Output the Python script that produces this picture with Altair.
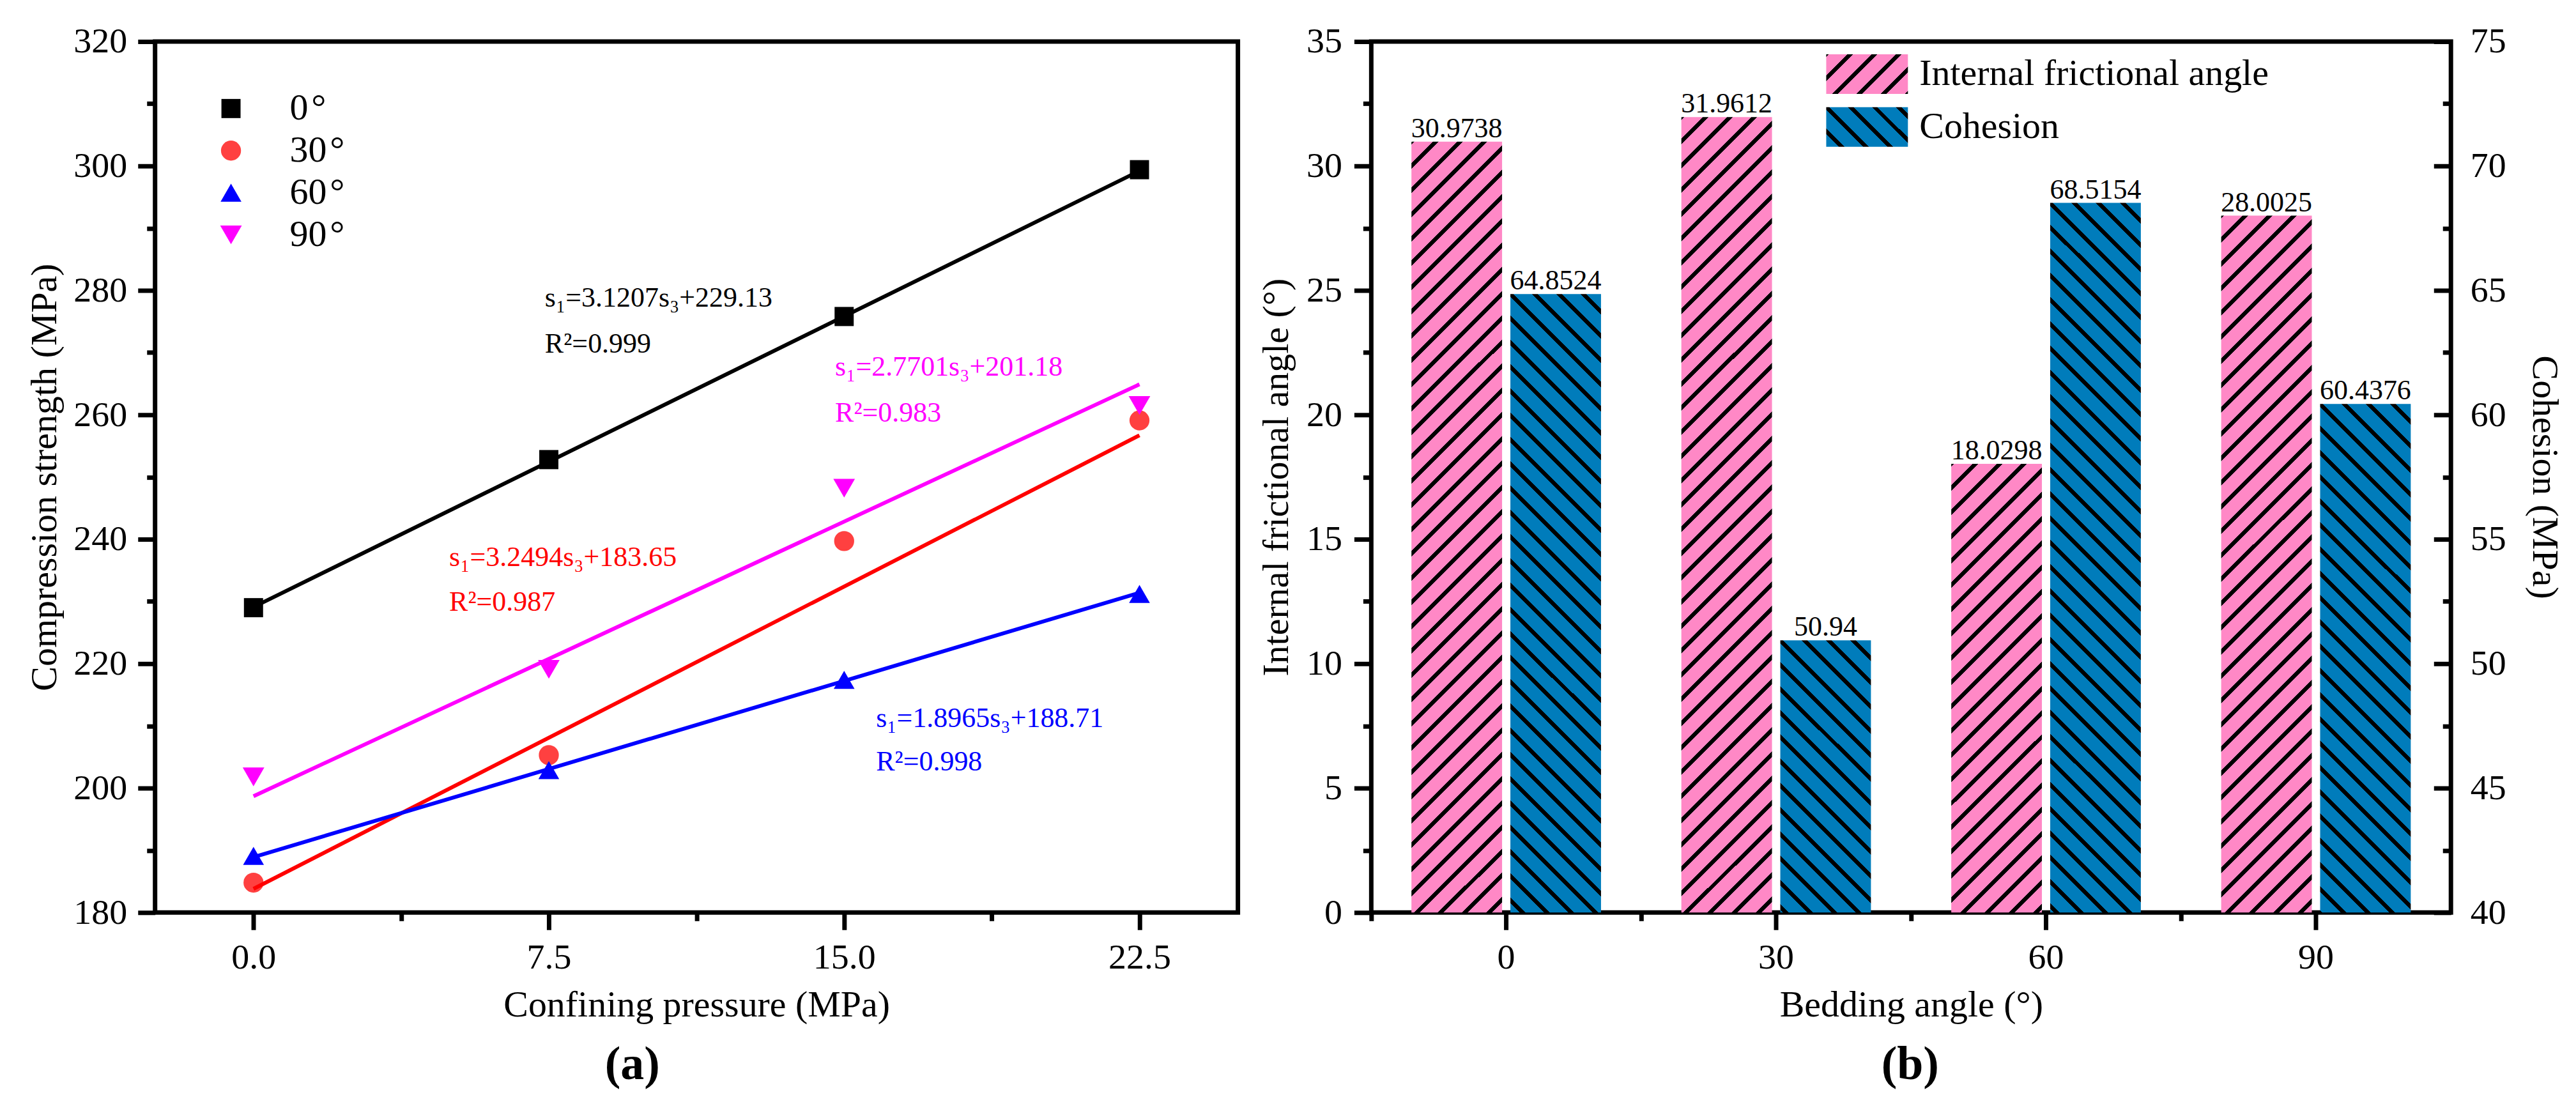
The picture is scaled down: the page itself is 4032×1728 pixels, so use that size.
import altair as alt
import pandas as pd

FONT = "Liberation Serif"

# ---------------- panel (a) data ----------------
pressure = [0.0, 7.5, 15.0, 22.5]
angles_a = ["0\u200a°", "30\u200a°", "60\u200a°", "90\u200a°"]
strength_0 = [229.0, 252.8, 275.8, 299.4]
strength_30 = [184.8, 205.3, 239.7, 259.1]
strength_60 = [189.1, 202.9, 217.4, 231.2]
strength_90 = [201.8, 219.1, 248.2, 261.5]
fit_x = [0.0, 22.5]
fit_0 = [229.1, 299.2]
fit_30 = [183.8, 256.7]
fit_60 = [188.9, 231.4]
fit_90 = [198.7, 264.9]
eq_labels = ["s₁=3.1207s₃+229.13", "s₁=3.2494s₃+183.65",
             "s₁=1.8965s₃+188.71", "s₁=2.7701s₃+201.18"]
r2_labels = ["R²=0.999", "R²=0.987", "R²=0.998", "R²=0.983"]
eq_x = [7.40, 4.97, 15.81, 14.77]
eq_y = [277.4, 235.7, 209.8, 266.3]
r2_y = [270.0, 228.5, 202.8, 258.9]

# ---------------- panel (b) data ----------------
bedding = ["0", "30", "60", "90"]
series_b = ["Internal frictional angle", "Cohesion"]
friction = [30.9738, 31.9612, 18.0298, 28.0025]
cohesion = [64.8524, 50.94, 68.5154, 60.4376]

# ---------------- styles ----------------
marker_colors = ["#000000", "#FF4040", "#0000FF", "#FF00FF"]
line_colors = ["#000000", "#FF0000", "#0000FF", "#FF00FF"]
marker_shapes = ["square", "circle", "triangle-up", "triangle-down"]
marker_sizes = [900, 1150, 1700, 1700]
PINK = "#FF88C6"
TEAL = "#007CBB"

WA, HA = 1697, 1365
WB, HB = 1692, 1365
BAR_W = 142
MAJOR, MINOR = 27, 13

# ---------------- tables ----------------
rows = []
for s, vals in zip(angles_a, [strength_0, strength_30, strength_60, strength_90]):
    for p, v in zip(pressure, vals):
        rows.append({"series": s, "pressure": p, "strength": v})
df_pts = pd.DataFrame(rows)

rows = []
for s, c, vals in zip(angles_a, line_colors, [fit_0, fit_30, fit_60, fit_90]):
    for p, v in zip(fit_x, vals):
        rows.append({"series": s, "pressure": p, "strength": v, "lc": c})
df_fit = pd.DataFrame(rows)

rows = []
for i in range(4):
    rows.append({"pressure": eq_x[i], "strength": eq_y[i], "label": eq_labels[i], "tc": line_colors[i]})
    rows.append({"pressure": eq_x[i], "strength": r2_y[i], "label": r2_labels[i], "tc": line_colors[i]})
df_eq = pd.DataFrame(rows)

df_pink = pd.DataFrame({"angle": bedding, "series": series_b[0], "value": friction})
df_blue = pd.DataFrame({"angle": bedding, "series": series_b[1], "value": cohesion})


def hatch(w, h, base, slant, period=38.0, thick=9.0, gid=None):
    L = w + h
    k = L / (w * w + h * h)
    if slant == "/":
        x1, y1, x2, y2 = 0, 0, k * w, k * h
        c0 = 0.0
    else:
        x1, y1, x2, y2 = 0, 1, k * w, 1 - k * h
        c0 = h % period
    stops = [{"offset": 0, "color": base}]
    c = c0 - period
    while c - thick / 2 <= L:
        a = (c - thick / 2) / L
        b = (c + thick / 2) / L
        if b > 0:
            a = max(a, 0.0)
            b = min(b, 1.0)
            stops += [{"offset": round(a, 5), "color": base},
                      {"offset": round(a, 5), "color": "#000000"},
                      {"offset": round(b, 5), "color": "#000000"},
                      {"offset": round(b, 5), "color": base}]
        c += period
    stops.append({"offset": 1, "color": base})
    g = {"gradient": "linear", "x1": x1, "y1": y1, "x2": x2, "y2": y2, "stops": stops}
    if gid:
        g["id"] = gid
    return g


# ---------------- panel (a) chart ----------------
xs_a = alt.Scale(domain=[-2.5, 25], nice=False, zero=False)
ys_a = alt.Scale(domain=[180, 320], nice=False, zero=False)

x_axis_a = alt.Axis(orient="bottom", title="Confining pressure (MPa)", values=[0, 7.5, 15, 22.5],
                    format=".1f", tickSize=MAJOR, labelPadding=16, titlePadding=18, domain=False)
y_axis_a = alt.Axis(orient="left", title="Compression strength (MPa)", values=list(range(180, 321, 20)),
                    tickSize=MAJOR, labelPadding=17, titlePadding=15, domain=False)
x_minor_a = alt.Axis(orient="bottom", title=None, labels=False, values=[3.75, 11.25, 18.75],
                     tickSize=MINOR, domain=False)
y_minor_a = alt.Axis(orient="left", title=None, labels=False, values=list(range(190, 320, 20)),
                     tickSize=MINOR, domain=False)

legend_a = alt.Legend(title=None, orient="none", legendX=90, legendY=76, labelOffset=63,
                      rowPadding=8, padding=0, labelFontSize=58, labelFont=FONT, labelLimit=0,
                      symbolStrokeWidth=0, symbolOpacity=1)

points = alt.Chart(df_pts).mark_point(filled=True, opacity=1).encode(
    x=alt.X("pressure:Q", scale=xs_a, axis=x_axis_a),
    y=alt.Y("strength:Q", scale=ys_a, axis=y_axis_a),
    color=alt.Color("series:N", scale=alt.Scale(domain=angles_a, range=marker_colors), legend=legend_a),
    shape=alt.Shape("series:N", scale=alt.Scale(domain=angles_a, range=marker_shapes), legend=legend_a),
    size=alt.Size("series:N", scale=alt.Scale(domain=angles_a, range=marker_sizes), legend=legend_a),
)

lines = alt.Chart(df_fit).mark_line(strokeWidth=6).encode(
    x=alt.X("pressure:Q", scale=xs_a, axis=x_minor_a),
    y=alt.Y("strength:Q", scale=ys_a, axis=y_minor_a),
    detail="series:N",
    color=alt.Color("lc:N", scale=None),
)

eqs = alt.Chart(df_eq).mark_text(align="left", baseline="alphabetic", fontSize=44, font=FONT).encode(
    x=alt.X("pressure:Q", scale=xs_a, axis=None),
    y=alt.Y("strength:Q", scale=ys_a, axis=None),
    text="label:N",
    color=alt.Color("tc:N", scale=None),
)

left = alt.layer(points, lines, eqs).resolve_axis(x="independent", y="independent").properties(
    width=WA, height=HA,
    title=alt.TitleParams("(a)", orient="bottom", anchor="middle", frame="bounds",
                          fontSize=74, fontWeight="bold", font=FONT, offset=29, color="black"),
)

# ---------------- panel (b) chart ----------------
xs_b = alt.Scale(domain=bedding, paddingInner=0, paddingOuter=0)
xoff = alt.XOffset("series:N", scale=alt.Scale(domain=series_b, paddingInner=0.0839, paddingOuter=0.406))
yl_scale = alt.Scale(domain=[0, 35], nice=False, zero=True)
yr_scale = alt.Scale(domain=[40, 75], nice=False, zero=False)

x_major = alt.X("angle:N", sort=bedding, scale=xs_b, axis=alt.Axis(
    orient="bottom", title="Bedding angle (°)", labelAngle=0, tickSize=MAJOR, labelPadding=16,
    titlePadding=18, domain=False))
x_minor = alt.X("angle:N", sort=bedding, scale=xs_b, axis=alt.Axis(
    orient="bottom", title=None, labels=False, bandPosition=0, tickSize=MINOR, domain=False))
x_none = alt.X("angle:N", sort=bedding, scale=xs_b, axis=None)

yl_axis = alt.Axis(orient="left", title="Internal frictional angle (°)", values=list(range(0, 36, 5)),
                   tickSize=MAJOR, labelPadding=19, titlePadding=17, domain=False)
yl_minor = alt.Axis(orient="left", title=None, labels=False, values=[2.5 + 5 * i for i in range(7)],
                    tickSize=MINOR, domain=False)
yr_axis_labels = alt.Axis(orient="right", title="Cohesion (MPa)", values=list(range(40, 76, 5)),
                          ticks=False, tickSize=0, labelPadding=30, titlePadding=30, domain=False)
yr_major = alt.Axis(orient="left", offset=-WB, values=list(range(40, 76, 5)), labels=False, title=None,
                    tickSize=MAJOR, domain=False)
yr_minor = alt.Axis(orient="left", offset=-WB, values=[42.5 + 5 * i for i in range(7)], labels=False,
                    title=None, tickSize=MINOR, domain=False)

leg_pink = hatch(128, 62, PINK, "/", gid="legPinkHatch")
leg_blue = hatch(128, 62, TEAL, "\\", gid="legBlueHatch")

legend_b = alt.Legend(title=None, orient="none", legendX=746, legendY=20,
                      symbolType="M-2.065,-1H2.065V1H-2.065Z", symbolSize=3844,
                      symbolStrokeWidth=0, symbolOpacity=1, labelOffset=51, rowPadding=21,
                      padding=0, labelFontSize=58, labelFont=FONT, labelLimit=0)

fill_scale = alt.Scale(domain=series_b, range=["url(#legPinkHatch)", "url(#legBlueHatch)"])

pink_cond = [{"test": f"datum.angle === '{a}'",
              "value": hatch(BAR_W, v / 35 * HB, PINK, "/")} for a, v in zip(bedding, friction)]
blue_cond = [{"test": f"datum.angle === '{a}'",
              "value": hatch(BAR_W, (v - 40) / 35 * HB, TEAL, "\\")} for a, v in zip(bedding, cohesion)]

pink_bars = alt.Chart(df_pink).mark_bar().encode(
    x=x_major, xOffset=xoff,
    y=alt.Y("value:Q", scale=yl_scale, axis=yl_axis),
    fill=alt.Fill("series:N", scale=fill_scale, legend=legend_b, condition=pink_cond),
)
pink_text = alt.Chart(df_pink).mark_text(baseline="alphabetic", dy=-7, fontSize=44, font=FONT,
                                         color="black").encode(
    x=x_minor, xOffset=xoff,
    y=alt.Y("value:Q", scale=yl_scale, axis=yl_minor),
    text=alt.Text("value:Q"),
)
legdef_pink = alt.Chart(df_pink).mark_bar(opacity=0).encode(
    x=x_none, xOffset=xoff,
    y=alt.Y("value:Q", scale=yl_scale, axis=None),
    fill=alt.value(leg_pink),
)
legdef_blue = alt.Chart(df_pink).mark_bar(opacity=0).encode(
    x=x_none, xOffset=xoff,
    y=alt.Y("value:Q", scale=yl_scale, axis=None),
    fill=alt.value(leg_blue),
)

blue_bars = alt.Chart(df_blue).mark_bar().encode(
    x=x_none, xOffset=xoff,
    y=alt.Y("value:Q", scale=yr_scale, axis=yr_axis_labels),
    y2=alt.datum(40),
    fill=alt.Fill("series:N", scale=fill_scale, legend=legend_b, condition=blue_cond),
)
blue_text = alt.Chart(df_blue).mark_text(baseline="alphabetic", dy=-7, fontSize=44, font=FONT,
                                         color="black").encode(
    x=x_none, xOffset=xoff,
    y=alt.Y("value:Q", scale=yr_scale, axis=yr_major),
    text=alt.Text("value:Q"),
)
blue_ticks = alt.Chart(df_blue).mark_point(opacity=0).encode(
    x=x_none, xOffset=xoff,
    y=alt.Y("value:Q", scale=yr_scale, axis=yr_minor),
)

right = alt.layer(
    legdef_pink, legdef_blue, pink_bars, pink_text, blue_bars, blue_text, blue_ticks
).resolve_scale(y="independent").resolve_axis(x="independent", y="independent").properties(
    width=WB, height=HB,
    title=alt.TitleParams("(b)", orient="bottom", anchor="middle", frame="bounds",
                          fontSize=74, fontWeight="bold", font=FONT, offset=29, color="black"),
)

chart = alt.hconcat(left, right, spacing=24).resolve_legend(
    color="independent", shape="independent", size="independent", fill="independent"
).properties(
    padding={"left": 30, "top": 24, "right": 10, "bottom": 5},
    background="white",
).configure_view(
    stroke="black", strokeWidth=7
).configure_axis(
    grid=False, tickColor="black", tickWidth=7, labelFont=FONT, titleFont=FONT,
    labelFontSize=56, titleFontSize=58, labelColor="black", titleColor="black",
    titleFontWeight="normal", labelFlush=False, labelOverlap=False,
).configure_legend(
    labelFont=FONT, labelColor="black"
).configure_title(font=FONT)

chart.save("out.html", embed_options={"renderer": "svg", "actions": False})
